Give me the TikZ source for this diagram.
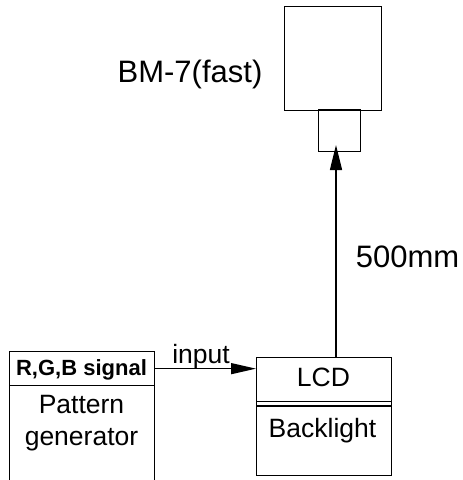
\documentclass[tikz,border=0pt]{standalone}
\usepackage{fontspec}
\setmainfont{Liberation Sans}
\usetikzlibrary{arrows.meta}
\begin{document}
\begin{tikzpicture}%
[x=1pt,y=-1pt,
box/.style={rectangle,draw=black,line width=1.3pt,inner sep=0pt,anchor=north west},
txt/.style={inner sep=0pt,anchor=base,font=\fontsize{26.5}{32}\selectfont,align=center},
big/.style={txt,font=\fontsize{31}{36}\selectfont}]
\useasboundingbox (0,0) rectangle (463,480);
% meter
\node (bm7) at (284,6) [box, minimum width=97, minimum height=104] {};
\node (lens) at (318,109) [box, line width=1pt, minimum width=42, minimum height=42] {};
\node (bmlabel) at (190,82) [big] {BM-7(fast)};
% pattern generator
\node (pg) at (9,351) [box, minimum width=145, minimum height=140] {};
\node (rgb) at (9,351) [box, minimum width=145, minimum height=34] {};
\node (rgbtext) at (81.5,375) [txt, font=\fontsize{22}{26}\selectfont\bfseries] {R,G,B signal};
\node (pgtext) at (81.5,445) [txt] {Pattern\\generator};
% panel
\node (lcd) at (256,357) [box, minimum width=135, minimum height=118] {};
\node (lcdhead) at (256,357) [box, draw=none, minimum width=135, minimum height=43] {};
\node (lcdtext) at (323.5,386) [txt] {LCD};
\coordinate (bltop) at (256,406);
\node (bl) at (322.5,437) [txt] {Backlight};
\draw [line width=1.3pt] (lcdhead.south west) -- (lcdhead.south east);
\draw [line width=1.3pt] (bltop) -- (bltop -| lcd.east);
% connections
\coordinate (tip) at (336,145);
\draw [-{Triangle[length=25pt,width=12pt]},line width=1.3pt] (tip |- lcd.north) -- (tip);
\node (dist) at (407.5,267) [big] {500mm};
\draw [-{Triangle[length=25pt,width=11pt]},line width=1.3pt] (rgb.east) -- (rgb.east -| lcd.west);
\node (input) at (201,363) [txt] {input};
\end{tikzpicture}
\end{document}
